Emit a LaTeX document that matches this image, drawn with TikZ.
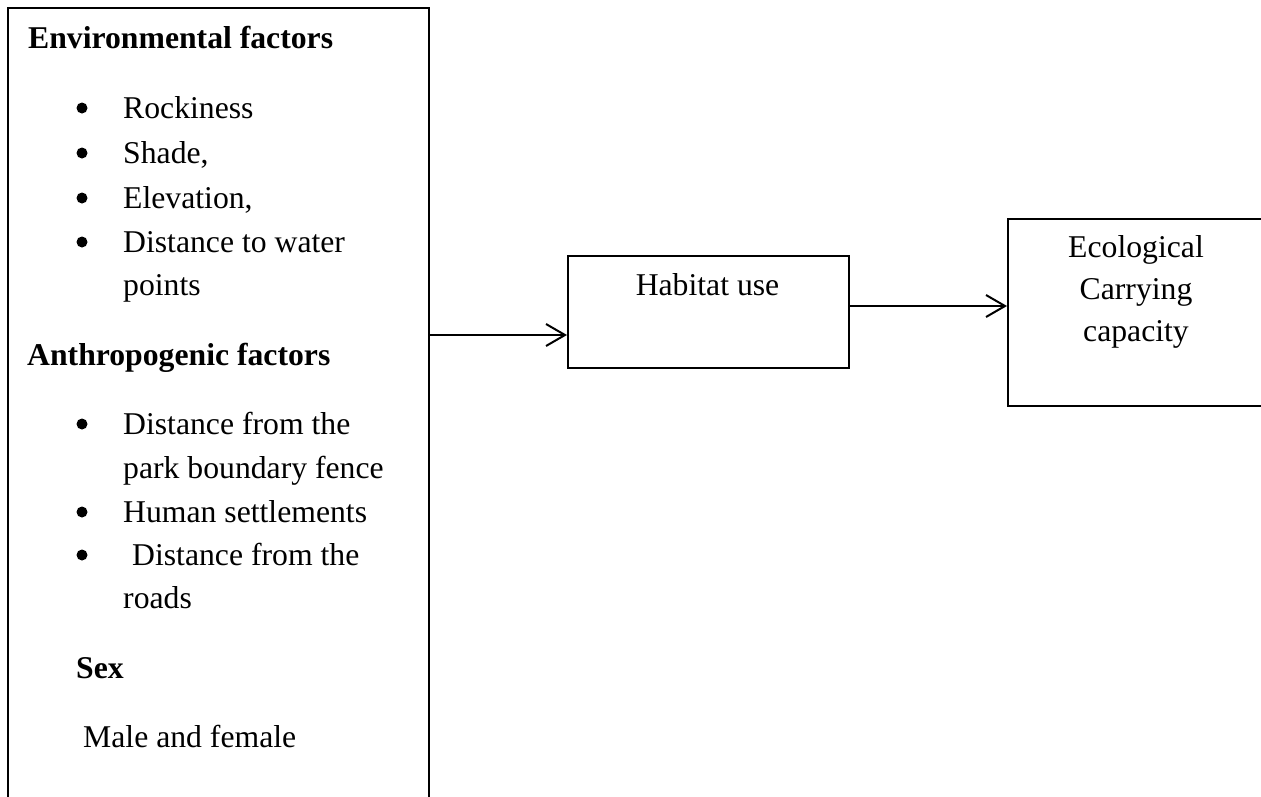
\documentclass[tikz,border=0pt]{standalone}
\usepackage{fontspec}
\setmainfont{Liberation Serif}
\usetikzlibrary{arrows.meta}

\begin{document}
\begin{tikzpicture}[x=1pt, y=-1pt,
    box/.style={draw, line width=2pt, inner sep=0pt},
    txt/.style={anchor=base west, inner sep=0pt, font=\fontsize{31.7}{44}\selectfont},
    head/.style={txt, font=\fontsize{31.7}{44}\selectfont\bfseries},
    ctr/.style={anchor=base, inner sep=0pt, font=\fontsize{31.7}{44}\selectfont},
    arr/.style={line width=2pt, -{Straight Barb[length=19pt,width=22pt]}}]

    \clip (0,0) rectangle (1261,796);

    % Boxes
    \node (factors) [box, minimum width=421pt, minimum height=900pt, anchor=north west] at (7,7) {};
    \node (habitat) [box, minimum width=281pt, minimum height=112pt, anchor=north west] at (567,255) {};
    \node (capacity) [box, minimum width=258pt, minimum height=187pt, anchor=north west] at (1007,218) {};

    % Left column
    \node (env) [head] at (28,48) {Environmental factors};
    \node (rock) [txt] at (123,118) {Rockiness};
    \node (shade) [txt] at (123,163) {Shade,};
    \node (elev) [txt] at (123,208) {Elevation,};
    \node (water) [txt] at (123,252) {Distance to water};
    \node (points) [txt] at (123,295) {points};
    \node (anthro) [head] at (27,365) {Anthropogenic factors};
    \node (fence) [txt] at (123,434) {Distance from the};
    \node (park) [txt] at (123,478) {park boundary fence};
    \node (human) [txt] at (123,522) {Human settlements};
    \node (road) [txt] at (132,565) {Distance from the};
    \node (roads) [txt] at (123,608) {roads};
    \node (sex) [head] at (76,678) {Sex};
    \node (mf) [txt] at (83,747) {Male and female};

    % Bullets
    \foreach \y in {118,163,208,252,434,522,565}
        \fill (82,\y-10) circle (5.5pt);

    % Middle and right texts
    \node (habtxt) [ctr] at (707.5,295) {Habitat use};
    \node (eco) [ctr] at (1136,257) {Ecological};
    \node (carry) [ctr] at (1136,299) {Carrying};
    \node (cap) [ctr] at (1136,341) {capacity};

    % Arrows
    \coordinate (habin) at ([yshift=-23pt]habitat.west);
    \coordinate (habout) at ([yshift=6pt]habitat.east);
    \draw[arr] (factors.east |- habin) -- (habin);
    \draw[arr] (habout) -- (capacity.west |- habout);
\end{tikzpicture}
\end{document}
